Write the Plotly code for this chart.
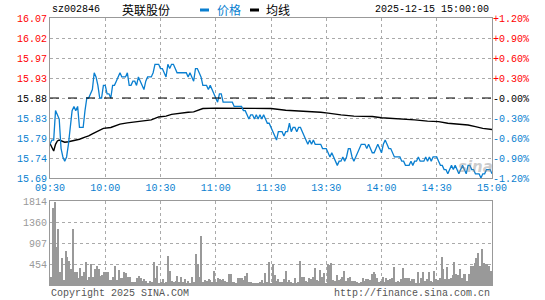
import plotly.graph_objects as go

# ---------------- data ----------------
stock_code = "sz002846"
stock_name = "英联股份"
timestamp = "2025-12-15 15:00:00"
prev_close = 15.88

minutes = list(range(241))
price = [
    15.77, 15.78, 15.78, 15.85, 15.84, 15.83, 15.76, 15.74, 15.73, 15.74,
    15.77, 15.81, 15.85, 15.86, 15.85, 15.86, 15.81, 15.81, 15.81, 15.85,
    15.88, 15.88, 15.89, 15.90, 15.94, 15.93, 15.91, 15.88, 15.88, 15.91,
    15.91, 15.89, 15.89, 15.88, 15.91, 15.91, 15.92, 15.93, 15.94, 15.93,
    15.93, 15.93, 15.94, 15.91, 15.91, 15.92, 15.92, 15.91, 15.93, 15.92,
    15.91, 15.90, 15.92, 15.93, 15.93, 15.93, 15.94, 15.96, 15.96, 15.96,
    15.95, 15.95, 15.94, 15.93, 15.96, 15.95, 15.96, 15.96, 15.95, 15.94,
    15.94, 15.94, 15.94, 15.94, 15.94, 15.93, 15.94, 15.93, 15.92, 15.95,
    15.95, 15.94, 15.93, 15.91, 15.91, 15.91, 15.90, 15.91, 15.90, 15.89,
    15.88, 15.87, 15.89, 15.89, 15.87, 15.87, 15.87, 15.87, 15.87, 15.87,
    15.86, 15.86, 15.86, 15.86, 15.86, 15.85, 15.85, 15.84, 15.83, 15.84,
    15.84, 15.83, 15.84, 15.83, 15.84, 15.83, 15.84, 15.83, 15.82, 15.82,
    15.81,
    15.80, 15.79, 15.78, 15.80, 15.80, 15.80, 15.79, 15.80, 15.80, 15.82,
    15.80, 15.81, 15.81, 15.80, 15.81, 15.81, 15.80, 15.79, 15.78, 15.77,
    15.78, 15.77, 15.78, 15.77, 15.77, 15.77, 15.77, 15.76, 15.76, 15.76,
    15.75, 15.74, 15.75, 15.74, 15.73, 15.72, 15.73, 15.73, 15.74, 15.73,
    15.74, 15.76, 15.76, 15.74, 15.73, 15.74, 15.75, 15.76, 15.77, 15.77,
    15.77, 15.76, 15.77, 15.76, 15.75, 15.75, 15.76, 15.77, 15.76, 15.75,
    15.77, 15.78, 15.77, 15.76, 15.76, 15.75, 15.74, 15.74, 15.74, 15.74,
    15.73, 15.73, 15.72, 15.72, 15.72, 15.73, 15.72, 15.73, 15.73, 15.74,
    15.73, 15.73, 15.73, 15.74, 15.73, 15.74, 15.73, 15.74, 15.74, 15.74,
    15.73, 15.72, 15.72, 15.71, 15.71, 15.70, 15.71, 15.72, 15.71, 15.72,
    15.71, 15.70, 15.71, 15.72, 15.71, 15.70, 15.72, 15.72, 15.71, 15.71,
    15.70, 15.70, 15.70, 15.69, 15.70, 15.70, 15.71, 15.71, 15.71, 15.70,
]

avg_minutes = [0, 2, 3, 4, 5, 8, 10, 13, 16, 19, 21, 23, 25, 27, 29, 33, 36, 38,
               42, 47, 52, 55, 59, 63, 66, 70, 75, 78, 80, 83, 90, 120, 128, 137,
               147, 151, 155, 158, 165, 175, 180, 185, 190, 198, 205, 211, 216,
               222, 227, 231, 235, 240]
avg_price = [15.772, 15.754, 15.770, 15.778, 15.780, 15.775, 15.776, 15.779,
             15.782, 15.787, 15.790, 15.795, 15.799, 15.804, 15.808, 15.810,
             15.814, 15.818, 15.821, 15.824, 15.826, 15.828, 15.835, 15.837,
             15.841, 15.844, 15.846, 15.847, 15.850, 15.855, 15.856, 15.855,
             15.851, 15.849, 15.846, 15.844, 15.841, 15.840, 15.837, 15.836,
             15.833, 15.832, 15.830, 15.828, 15.825, 15.824, 15.820, 15.818,
             15.816, 15.812, 15.808, 15.805]

volume = [
    180, 1656, 1800, 830, 1210, 275, 590, 110, 735, 612,
    520, 345, 1210, 290, 275, 145, 375, 200, 290, 505,
    110, 180, 445, 180, 345, 420, 345, 200, 215, 275,
    290, 290, 110, 110, 180, 420, 110, 325, 145, 145,
    275, 250, 180, 180, 72, 72, 72, 160, 200, 145,
    85, 130, 85, 36, 85, 58, 490, 160, 420, 36,
    72, 130, 36, 58, 635, 300, 85, 58, 85, 200,
    58, 180, 72, 130, 36, 85, 36, 180, 72, 670,
    445, 180, 1065, 58, 110, 85, 130, 110, 58, 300,
    72, 160, 130, 110, 130, 85, 58, 230, 230, 58,
    58, 36, 145, 145, 160, 110, 200, 250, 72, 58,
    36, 36, 36, 36, 58, 110, 36, 250, 58, 490,
    36,
    445, 215, 85, 130, 58, 72, 130, 300, 58, 110,
    58, 36, 160, 36, 58, 520, 180, 180, 85, 72,
    160, 130, 180, 360, 110, 85, 325, 180, 250, 36,
    445, 430, 470, 110, 85, 215, 110, 130, 180, 300,
    85, 145, 180, 85, 85, 85, 72, 36, 58, 160,
    85, 130, 130, 110, 230, 290, 230, 145, 58, 85,
    180, 58, 160, 110, 130, 145, 395, 58, 85, 72,
    130, 375, 160, 160, 160, 85, 130, 130, 36, 290,
    36, 160, 290, 85, 130, 290, 85, 58, 300, 130,
    110, 160, 612, 345, 130, 395, 130, 160, 215, 490,
    230, 215, 345, 145, 230, 230, 85, 230, 420, 420,
    465, 590, 685, 420, 778, 470, 445, 445, 420, 300,
]

time_ticks = [0, 30, 60, 90, 120, 150, 180, 210, 240]
time_labels = ["09:30", "10:00", "10:30", "11:00", "11:30", "13:30", "14:00", "14:30", "15:00"]

price_ticks = [15.69, 15.7375, 15.785, 15.8325, 15.88, 15.9275, 15.975, 16.0225, 16.07]
price_labels = ["15.69", "15.74", "15.79", "15.83", "15.88", "15.93", "15.97", "16.02", "16.07"]
pct_ticks = [-1.2, -0.9, -0.6, -0.3, 0.0, 0.3, 0.6, 0.9, 1.2]
pct_labels = ["-1.20%", "-0.90%", "-0.60%", "-0.30%", "-0.00%", "+0.30%", "+0.60%", "+0.90%", "+1.20%"]
vol_ticks = [453.5, 907, 1360.5, 1814]
vol_labels = ["454", "907", "1360", "1814"]

# ---------------- style ----------------
W, H = 545, 300
BLUE = "#0a7fd0"
RED = "#ff0000"
GRID = "#aaaaaa"
FRAME = "#999999"
MONO = "Liberation Mono, DejaVu Sans Mono, monospace"
CJK = "Noto Sans CJK SC"

def colored(labels, values, ref):
    out = []
    for lab, v in zip(labels, values):
        if abs(v - ref) < 1e-9:
            c = "#000000"
        elif v > ref:
            c = RED
        else:
            c = BLUE
        out.append(f'<span style="color:{c}">{lab}</span>')
    return out

xl, xr = 50 / W, 492 / W
price_dom = [1 - 178 / H, 1 - 18 / H]
vol_dom = [1 - 285 / H, 1 - 201 / H]

fig = go.Figure()
fig.add_trace(go.Bar(x=minutes, y=volume, xaxis="x2", yaxis="y2", width=0.6,
                     marker=dict(color="#999999", line=dict(width=0)), showlegend=False))
fig.add_trace(go.Scatter(x=avg_minutes, y=avg_price, mode="lines", xaxis="x", yaxis="y",
                         line=dict(color="#000000", width=1.4), showlegend=False))
fig.add_trace(go.Scatter(x=minutes, y=price, mode="lines", xaxis="x", yaxis="y",
                         line=dict(color=BLUE, width=1.3), showlegend=False))
# invisible trace to activate percent axis
fig.add_trace(go.Scatter(x=[0], y=[0], xaxis="x", yaxis="y3", mode="markers",
                         marker=dict(opacity=0), showlegend=False, hoverinfo="skip"))

fig.add_shape(type="line", xref="x", yref="y", x0=0, x1=240, y0=prev_close, y1=prev_close,
              line=dict(color="#000000", width=1, dash="dash"))

axis_common = dict(showgrid=True, gridcolor=GRID, griddash="dot", gridwidth=1,
                   showline=True, mirror=True, linecolor=FRAME, linewidth=1,
                   zeroline=False, ticks="", automargin=False)

fig.update_layout(
    width=W, height=H, margin=dict(l=0, r=0, t=0, b=0, autoexpand=False),
    paper_bgcolor="white", plot_bgcolor="white", bargap=0,
    xaxis=dict(domain=[xl, xr], range=[0, 240], anchor="y", tickmode="array",
               tickvals=time_ticks, ticktext=time_labels,
               tickfont=dict(family=MONO, size=10, color=BLUE), **axis_common),
    yaxis=dict(domain=price_dom, range=[15.69, 16.07], anchor="x", tickmode="array",
               tickvals=price_ticks, ticktext=colored(price_labels, price_ticks, prev_close),
               tickfont=dict(family=MONO, size=10), **axis_common),
    yaxis3=dict(overlaying="y", side="right", anchor="x", range=[-1.2, 1.2],
                tickmode="array", tickvals=pct_ticks,
                ticktext=colored(pct_labels, pct_ticks, 0.0),
                tickfont=dict(family=MONO, size=10), showgrid=False, zeroline=False,
                showline=False, ticks="", automargin=False),
    xaxis2=dict(domain=[xl, xr], range=[-0.5, 240.5], anchor="y2", tickmode="array",
                tickvals=time_ticks, showticklabels=False, **axis_common),
    yaxis2=dict(domain=vol_dom, range=[0, 1814], anchor="x2", tickmode="array",
                tickvals=vol_ticks, ticktext=vol_labels,
                tickfont=dict(family=MONO, size=10, color="#999999"), **axis_common),
)

def ann(text, x, y, xanchor="left", color="#000000", family=MONO, size=10, **kw):
    fig.add_annotation(text=text, x=x / W, y=1 - y / H, xref="paper", yref="paper",
                       xanchor=xanchor, yanchor="middle", showarrow=False,
                       font=dict(family=family, size=size, color=color), **kw)

ann(stock_code, 50, 10)
ann(stock_name, 120, 10, family=CJK, size=12)
ann("价格", 215, 10, family=CJK, size=12, color=BLUE)
ann("均线", 264, 10, family=CJK, size=12)
ann(timestamp, 491, 10, xanchor="right")
ann("Copyright 2025 SINA.COM", 49, 293, color="#555555")
ann("http://finance.sina.com.cn", 492, 293, xanchor="right", color="#555555")
ann("<b><i>sina</i></b>", 475, 167, xanchor="center", color="rgba(140,140,140,0.45)",
    family="DejaVu Sans", size=15)

for x0, col in [(200, BLUE), (250, "#000000")]:
    fig.add_shape(type="rect", xref="paper", yref="paper",
                  x0=x0 / W, x1=(x0 + 9) / W, y0=1 - 11.5 / H, y1=1 - 8.5 / H,
                  fillcolor=col, line=dict(width=0))

fig.write_html("out.html")
